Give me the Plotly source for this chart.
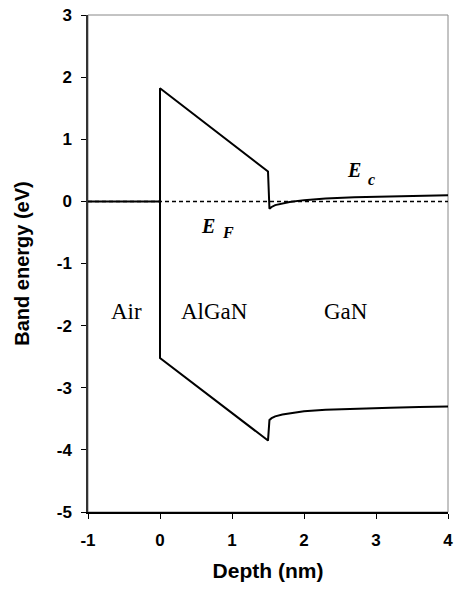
import plotly.graph_objects as go

# Conduction band edge (eV) vs depth (nm): air, AlGaN barrier, GaN channel
ec_depth = [-1.0, 0.0, 0.0, 1.5, 1.5, 1.52, 1.55, 1.6, 1.7, 1.8, 2.0, 2.3, 2.7, 3.2, 3.6, 4.0]
ec_energy = [0.0, 0.0, 1.82, 0.48, 0.48, -0.12, -0.09, -0.06, -0.03, -0.01, 0.02, 0.045, 0.065, 0.08, 0.09, 0.10]

# Valence band edge (eV) vs depth (nm)
ev_depth = [0.0, 0.0, 1.5, 1.52, 1.55, 1.6, 1.7, 1.8, 2.0, 2.3, 2.7, 3.2, 3.6, 4.0]
ev_energy = [0.0, -2.52, -3.85, -3.52, -3.49, -3.46, -3.43, -3.41, -3.38, -3.355, -3.335, -3.32, -3.31, -3.30]

# Fermi level
ef_depth = [-1.0, 4.0]
ef_energy = [0.0, 0.0]

x_ticks = [-1, 0, 1, 2, 3, 4]
y_ticks = [-5, -4, -3, -2, -1, 0, 1, 2, 3]

# Region names
region_names = ["Air", "AlGaN", "GaN"]
region_x = [-0.46, 0.76, 2.58]
region_y = [-1.78, -1.78, -1.78]

# Band labels: main symbol and subscript placed separately
band_main = ["E", "E"]
band_sub = ["c", "F"]
band_main_xy = [(2.566, 0.50), (0.548, -0.40)]
band_sub_xy = [(2.867, 0.36), (0.84, -0.50)]

SANS = "Liberation Sans, Arial, sans-serif"
SERIF = "Liberation Serif, Times New Roman, serif"

fig = go.Figure()
fig.add_trace(go.Scatter(x=ef_depth, y=ef_energy, mode="lines",
                         line=dict(color="black", width=1.5, dash="4px,3px"),
                         showlegend=False, hoverinfo="skip"))
fig.add_trace(go.Scatter(x=ec_depth, y=ec_energy, mode="lines",
                         line=dict(color="black", width=2),
                         showlegend=False))
fig.add_trace(go.Scatter(x=ev_depth, y=ev_energy, mode="lines",
                         line=dict(color="black", width=2),
                         showlegend=False))

for name, xx, yy in zip(region_names, region_x, region_y):
    fig.add_annotation(x=xx, y=yy, text=name, showarrow=False,
                       font=dict(family=SERIF, size=23, color="black"))

for m, s, (mx, my), (sx, sy) in zip(band_main, band_sub, band_main_xy, band_sub_xy):
    fig.add_annotation(x=mx, y=my, text=f"<b><i>{m}</i></b>", showarrow=False,
                       xanchor="left", yanchor="middle",
                       font=dict(family=SERIF, size=20, color="black"))
    fig.add_annotation(x=sx, y=sy, text=f"<b><i>{s}</i></b>", showarrow=False,
                       xanchor="left", yanchor="middle",
                       font=dict(family=SERIF, size=16, color="black"))

# light frame around the plotting area
fig.add_shape(type="rect", xref="paper", yref="paper", x0=0, y0=0, x1=1, y1=1,
              line=dict(color="#888888", width=1), layer="below")

fig.update_layout(
    width=459, height=590,
    margin=dict(l=88, r=6, t=15, b=78),
    paper_bgcolor="white", plot_bgcolor="white",
    font=dict(family=SANS, color="black"),
)
fig.update_xaxes(
    range=[-1, 4], tickvals=x_ticks, ticktext=[str(v) for v in x_ticks],
    showgrid=False, zeroline=False,
    showline=True, linecolor="black", linewidth=1.5,
    ticks="outside", ticklen=5, tickcolor="black", tickwidth=1,
    tickfont=dict(family=SANS, size=17, color="black", weight="bold"),
    ticklabelstandoff=7,
    title=dict(text="<b>Depth (nm)</b>", font=dict(family=SANS, size=21), standoff=14),
)
fig.update_yaxes(
    range=[-5, 3], tickvals=y_ticks, ticktext=[str(v) for v in y_ticks],
    showgrid=False, zeroline=False,
    showline=True, linecolor="#333333", linewidth=1.5,
    ticks="outside", ticklen=5, tickcolor="black", tickwidth=1,
    tickfont=dict(family=SANS, size=17, color="black", weight="bold"),
    ticklabelstandoff=6,
    title=dict(text="<b>Band energy (eV)</b>", font=dict(family=SANS, size=20), standoff=22),
)

fig.write_html("out.html")
